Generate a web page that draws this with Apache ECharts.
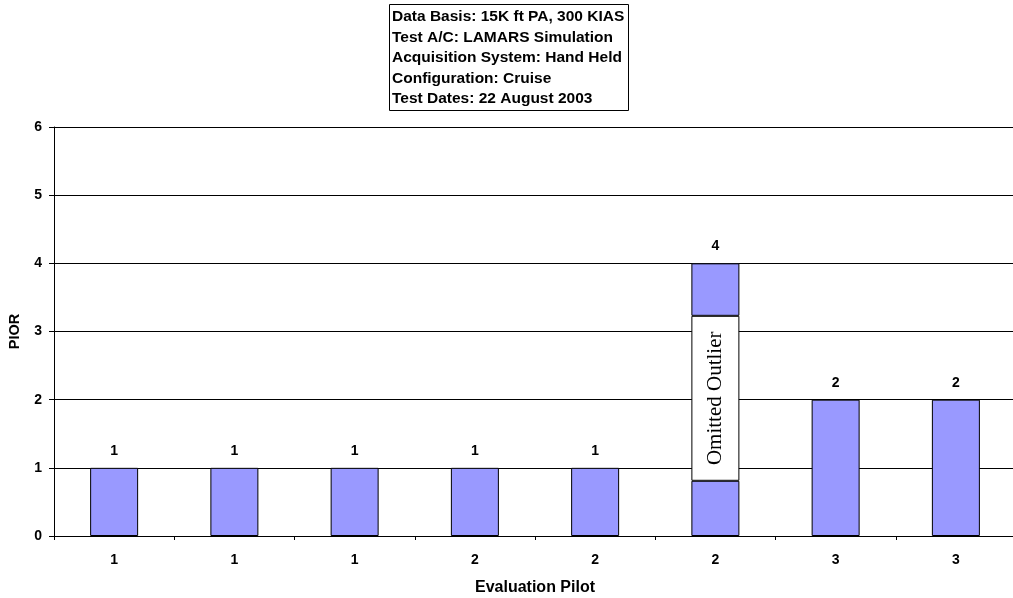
<!DOCTYPE html>
<html><head><meta charset="utf-8">
<script src="https://cdn.jsdelivr.net/npm/echarts@6/dist/echarts.min.js"></script>
<style>html,body{margin:0;padding:0;background:#fff}#c{width:1013px;height:598px}</style>
</head><body><div id="c"></div>
<script>
var pilots = ['1','1','1','2','2','2','3','3'];
var pior = [1,1,1,1,1,4,2,2];
var outlierIndex = 5;
var outlierLow = 0.81, outlierHigh = 3.23;
var yTicks = [0,1,2,3,4,5,6];
var infoLines = ['Data Basis: 15K ft PA, 300 KIAS','Test A/C: LAMARS Simulation','Acquisition System: Hand Held','Configuration: Cruise','Test Dates: 22 August 2003'];

var baseSeg = [], midSeg = [], topSeg = [];
pior.forEach(function(v,i){
  if(i===outlierIndex){
    baseSeg.push({value: outlierLow, label:{show:false}});
    midSeg.push(outlierHigh-outlierLow);
    topSeg.push({value: v-outlierHigh, label:{show:true, formatter: String(v)}});
  } else {
    baseSeg.push({value: v, label:{show:true}});
    midSeg.push('-'); topSeg.push('-');
  }
});
var font = 'Arial, "Liberation Sans", sans-serif';
var barStyle = {color:'#9999FF', borderColor:'#000', borderWidth:1};
var chart = echarts.init(document.getElementById('c'));
chart.setOption({
  animation:false,
  title:{text: infoLines.join('\n'), left:389, top:4, borderColor:'#000', borderWidth:1,
    padding:[3,4,2,3], backgroundColor:'#fff',
    textStyle:{fontFamily:font, fontSize:15.5, fontWeight:'bold', color:'#000', lineHeight:20.4}},
  grid:{left:54, top:127, width:962, height:409, containLabel:false, outerBoundsMode:'none'},
  xAxis:{type:'category', data:pilots, name:'Evaluation Pilot', nameLocation:'middle', nameGap:44,
    nameTextStyle:{fontFamily:font, fontSize:16, fontWeight:'bold', color:'#000'},
    axisLine:{lineStyle:{color:'#000', width:1}},
    axisTick:{show:true, alignWithLabel:false, length:4, lineStyle:{color:'#000'}},
    axisLabel:{fontFamily:font, fontSize:14, fontWeight:'bold', color:'#000', margin:17}},
  yAxis:{type:'value', min:0, max:6, interval:1, name:'PIOR', nameLocation:'middle', nameGap:32, nameRotate:90,
    nameTextStyle:{fontFamily:font, fontSize:14.5, fontWeight:'bold', color:'#000'},
    axisLine:{show:true, lineStyle:{color:'#000', width:1}},
    axisTick:{show:true, length:5, lineStyle:{color:'#000'}},
    splitLine:{show:true, lineStyle:{color:'#000', width:1}},
    axisLabel:{fontFamily:font, fontSize:14, fontWeight:'bold', color:'#000', margin:12,
      formatter:function(v){return yTicks.indexOf(v)>=0?String(v):'';}}},
  series:[
    {type:'bar', stack:'s', data:baseSeg, barWidth:48, itemStyle:barStyle,
      label:{show:false, position:'top', distance:10, fontFamily:font, fontSize:14, fontWeight:'bold', color:'#000'}},
    {type:'bar', stack:'s', data:midSeg, barWidth:48, itemStyle:{color:'#fff', borderColor:'#000', borderWidth:1},
      label:{show:true, position:'inside', rotate:90, formatter:'Omitted Outlier', fontFamily:'"Liberation Serif", "DejaVu Serif", serif', fontSize:21, color:'#000'}},
    {type:'bar', stack:'s', data:topSeg, barWidth:48, itemStyle:barStyle,
      label:{show:false, position:'top', distance:10, fontFamily:font, fontSize:14, fontWeight:'bold', color:'#000'}}
  ]
});
</script></body></html>
